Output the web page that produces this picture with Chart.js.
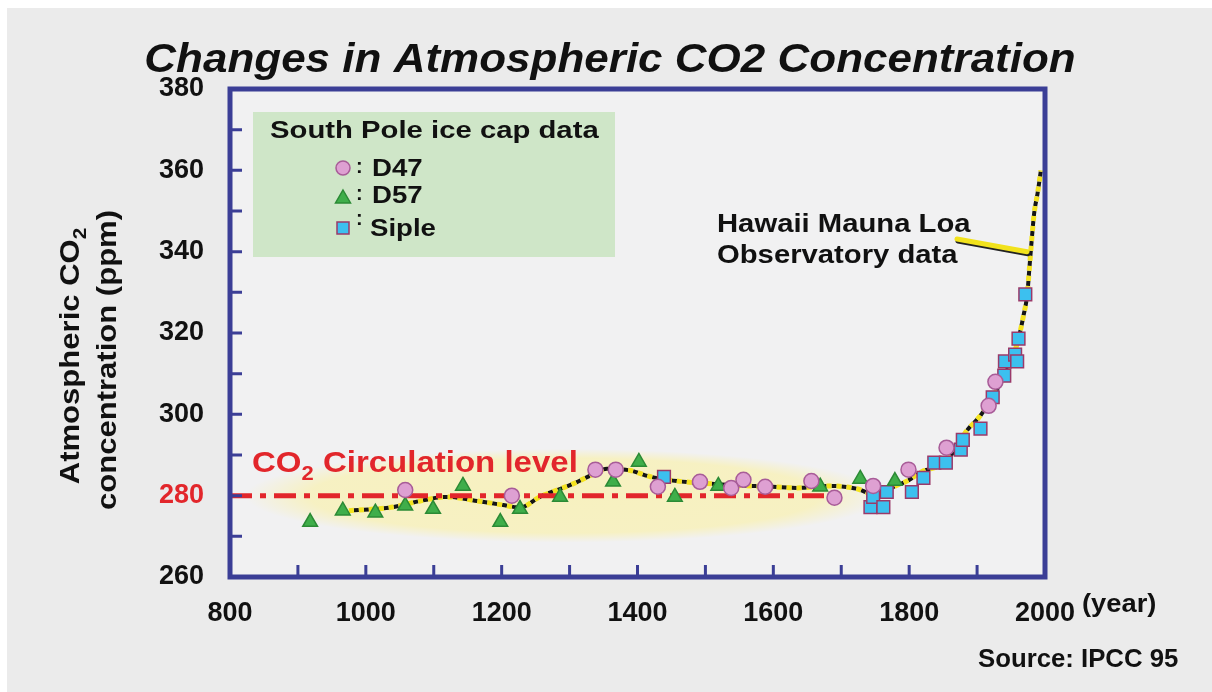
<!DOCTYPE html>
<html>
<head>
<meta charset="utf-8">
<title>Changes in Atmospheric CO2 Concentration</title>
<script src="https://cdn.jsdelivr.net/npm/chart.js@4.4.1/dist/chart.umd.min.js"></script>
<style>
  html, body { margin: 0; padding: 0; background: #fff; }
  canvas { display: block; }
</style>
</head>
<body>
<canvas id="co2Chart" width="1212" height="692"></canvas>
<script>
// South Pole ice cores
const d47Years = [1058, 1215, 1338, 1368, 1430, 1492, 1538, 1556, 1588, 1656, 1690, 1747, 1799, 1855, 1917, 1927];
const d47Ppm   = [281.4, 280, 286.4, 286.4, 282.2, 283.4, 281.9, 283.9, 282.2, 283.6, 279.5, 282.4, 286.4, 291.8, 302.1, 308];

const d57Years = [918, 966, 1014, 1058, 1099, 1143, 1198, 1227, 1286, 1364, 1402, 1455, 1519, 1669, 1728, 1779];
const d57Ppm   = [273.5, 276.3, 275.8, 277.5, 276.7, 282.4, 273.5, 276.7, 279.7, 283.4, 288.3, 279.7, 282.4, 282.2, 284.1, 283.6];

const sipleYears = [1439, 1743, 1747, 1762, 1767, 1804, 1821, 1837, 1854, 1876, 1879, 1905, 1923, 1940, 1941, 1956, 1959, 1961, 1971];
const siplePpm   = [284.6, 277.2, 279.7, 277.2, 280.9, 280.9, 284.4, 288.1, 288.1, 291.3, 293.7, 296.5, 304.2, 309.5, 313, 314.7, 313, 318.6, 329.5];

// smoothed trend incl. Mauna Loa record at the top
const trendYears = [975, 1040, 1080, 1120, 1164, 1202, 1227, 1256, 1305, 1330, 1355, 1389, 1418, 1452, 1502, 1551, 1599, 1635, 1683, 1723, 1742, 1760, 1780, 1797, 1821, 1844, 1860, 1885, 1905, 1930, 1940, 1953, 1961, 1968, 1974, 1977, 1980, 1984, 1989, 1994];
const trendPpm   = [276.3, 277.2, 278.7, 279.7, 278.7, 277.7, 277.1, 279.7, 282.9, 284.9, 286.6, 286.2, 284.7, 283.7, 283, 282.5, 282.2, 281.9, 282.4, 281.7, 280.7, 281, 282.4, 283.6, 286.1, 287.3, 289.6, 296, 299.7, 306.3, 309.5, 314.4, 318.6, 324, 329.7, 335.9, 342, 349.4, 354.3, 360];

// pre-industrial "circulation level"
const levelYears = [800, 1695];
const levelPpm   = [280, 280];

const yTicks = [260, 280, 300, 320, 340, 360, 380];
const xTicks = [800, 1000, 1200, 1400, 1600, 1800, 2000];

// pale glow round the pre-industrial band (centre / half extent in data units)
const glowCentre = [1293, 280];
const glowHalf = [470, 11.5];
// where the Mauna Loa arrow points
const arrowTarget = [1978, 340];

const FONT = '"Liberation Sans", Arial, Helvetica, sans-serif';
const RED = '#e2262b';
const FRAME = '#3b3e96';
const INK = '#111111';

const toXY = (xs, ys) => xs.map((v, i) => ({ x: v, y: ys[i] }));

// text squeezed/stretched horizontally like the original artwork
function drawRich(ctx, parts, x, y, sx, align, rot) {
  ctx.save();
  ctx.translate(x, y);
  if (rot) ctx.rotate(rot);
  ctx.scale(sx, 1);
  let total = 0;
  parts.forEach(p => { ctx.font = p.font; total += ctx.measureText(p.t).width; });
  let cur = align === 'center' ? -total / 2 : 0;
  ctx.textAlign = 'left';
  ctx.textBaseline = 'alphabetic';
  parts.forEach(p => {
    ctx.font = p.font;
    ctx.fillStyle = p.color || INK;
    ctx.fillText(p.t, cur, p.dy || 0);
    cur += ctx.measureText(p.t).width;
  });
  ctx.restore();
}

function bold(size, italic) {
  return (italic ? 'italic ' : '') + 'bold ' + size + 'px ' + FONT;
}

function marker(ctx, kind, x, y) {
  ctx.save();
  ctx.lineWidth = 1.5;
  if (kind === 'circle') {
    ctx.fillStyle = '#dea0d2'; ctx.strokeStyle = '#a85c98';
    ctx.beginPath(); ctx.arc(x, y, 7, 0, Math.PI * 2); ctx.fill(); ctx.stroke();
  } else if (kind === 'triangle') {
    ctx.fillStyle = '#3fae4a'; ctx.strokeStyle = '#2b8a35';
    ctx.beginPath(); ctx.moveTo(x, y - 7); ctx.lineTo(x + 7.5, y + 6); ctx.lineTo(x - 7.5, y + 6); ctx.closePath();
    ctx.fill(); ctx.stroke();
  } else {
    ctx.fillStyle = '#3cc0ef'; ctx.strokeStyle = '#9a3a6a';
    ctx.fillRect(x - 6, y - 6, 12, 12); ctx.strokeRect(x - 6, y - 6, 12, 12);
  }
  ctx.restore();
}

const decorations = {
  id: 'decorations',
  beforeDraw(chart) {
    const { ctx, chartArea: a } = chart;
    ctx.save();
    ctx.fillStyle = '#ffffff';
    ctx.fillRect(0, 0, chart.width, chart.height);
    ctx.fillStyle = '#ebebeb';
    ctx.fillRect(7, 8, chart.width - 7, chart.height - 8);
    ctx.fillStyle = '#f1f1f2';
    ctx.fillRect(a.left, a.top, a.right - a.left, a.bottom - a.top);
    ctx.restore();
  },
  beforeDatasetsDraw(chart) {
    const { ctx, scales: { x, y } } = chart;
    const cx = x.getPixelForValue(glowCentre[0]);
    const cy = y.getPixelForValue(glowCentre[1]);
    const rx = Math.abs(x.getPixelForValue(glowCentre[0] + glowHalf[0]) - cx);
    const ry = Math.abs(y.getPixelForValue(glowCentre[1] + glowHalf[1]) - cy);
    ctx.save();
    ctx.translate(cx, cy);
    ctx.scale(rx / ry, 1);
    const g = ctx.createRadialGradient(0, 0, 0, 0, 0, ry);
    g.addColorStop(0, 'rgba(247,241,192,1)');
    g.addColorStop(0.8, 'rgba(247,241,192,0.95)');
    g.addColorStop(1, 'rgba(247,241,192,0)');
    ctx.fillStyle = g;
    ctx.beginPath(); ctx.arc(0, 0, ry, 0, Math.PI * 2); ctx.fill();
    ctx.restore();
  },
  afterDraw(chart) {
    const { ctx, chartArea: a, scales: { x, y } } = chart;
    ctx.save();

    // frame + inner ticks
    ctx.strokeStyle = FRAME;
    ctx.lineWidth = 5;
    ctx.strokeRect(a.left, a.top, a.right - a.left, a.bottom - a.top);
    ctx.lineWidth = 3;
    ctx.beginPath();
    for (let v = 270; v < 380; v += 10) {
      const py = y.getPixelForValue(v);
      ctx.moveTo(a.left, py); ctx.lineTo(a.left + 12, py);
    }
    for (let v = 900; v < 2000; v += 100) {
      const px = x.getPixelForValue(v);
      ctx.moveTo(px, a.bottom); ctx.lineTo(px, a.bottom - 12);
    }
    ctx.stroke();

    // title
    drawRich(ctx, [{ t: 'Changes in Atmospheric CO2 Concentration', font: bold(40, true) }], 610, 72, 1.1, 'center');

    // y axis title, two rotated lines
    drawRich(ctx, [
      { t: 'Atmospheric CO', font: bold(27) },
      { t: '2', font: bold(18), dy: 7 }
    ], 79, 356, 1.15, 'center', -Math.PI / 2);
    drawRich(ctx, [{ t: 'concentration (ppm)', font: bold(27) }], 116, 360, 1.15, 'center', -Math.PI / 2);

    // unit + source
    drawRich(ctx, [{ t: '(year)', font: bold(26) }], 1082, 612, 1.05, 'left');
    drawRich(ctx, [{ t: 'Source: IPCC 95', font: bold(25) }], 978, 667, 1.03, 'left');

    // circulation level label
    drawRich(ctx, [
      { t: 'CO', font: bold(30), color: RED },
      { t: '2', font: bold(20), color: RED, dy: 8 },
      { t: ' Circulation level', font: bold(30), color: RED }
    ], 252, 472, 1.1, 'left');

    // legend box
    ctx.fillStyle = '#cfe6c8';
    ctx.fillRect(253, 112, 362, 145);
    drawRich(ctx, [{ t: 'South Pole ice cap data', font: bold(24) }], 270, 138, 1.22, 'left');
    marker(ctx, 'circle', 343, 168);
    marker(ctx, 'triangle', 343, 197);
    marker(ctx, 'square', 343, 228);
    drawRich(ctx, [{ t: ':', font: bold(20) }], 356, 173, 1, 'left');
    drawRich(ctx, [{ t: ':', font: bold(20) }], 356, 200, 1, 'left');
    drawRich(ctx, [{ t: ':', font: bold(20) }], 356, 225, 1, 'left');
    drawRich(ctx, [{ t: 'D47', font: bold(24) }], 372, 176, 1.15, 'left');
    drawRich(ctx, [{ t: 'D57', font: bold(24) }], 372, 203, 1.15, 'left');
    drawRich(ctx, [{ t: 'Siple', font: bold(24) }], 370, 236, 1.15, 'left');

    // Mauna Loa note + arrow
    drawRich(ctx, [{ t: 'Hawaii Mauna Loa', font: bold(25) }], 717, 232, 1.17, 'left');
    drawRich(ctx, [{ t: 'Observatory data', font: bold(25) }], 717, 263, 1.17, 'left');
    const tx = x.getPixelForValue(arrowTarget[0]);
    const ty = y.getPixelForValue(arrowTarget[1]);
    ctx.lineCap = 'round';
    ctx.lineWidth = 5;
    ctx.strokeStyle = '#222';
    ctx.beginPath(); ctx.moveTo(958, 241); ctx.lineTo(tx - 2, ty + 2); ctx.stroke();
    ctx.strokeStyle = '#f2e21c';
    ctx.beginPath(); ctx.moveTo(957, 239); ctx.lineTo(tx - 3, ty); ctx.stroke();
    ctx.restore();
  }
};

const ctx = document.getElementById('co2Chart').getContext('2d');
const co2Chart = new Chart(ctx, {
  type: 'scatter',
  data: {
    datasets: [
      {
        label: 'D47',
        data: toXY(d47Years, d47Ppm),
        pointStyle: 'circle',
        pointRadius: 7.5,
        backgroundColor: '#dea0d2',
        borderColor: '#a85c98',
        borderWidth: 1.5,
        order: 0
      },
      {
        label: 'D57',
        data: toXY(d57Years, d57Ppm),
        pointStyle: 'triangle',
        pointRadius: 8.5,
        backgroundColor: '#3fae4a',
        borderColor: '#2b8a35',
        borderWidth: 1.5,
        order: 1
      },
      {
        label: 'Siple',
        data: toXY(sipleYears, siplePpm),
        pointStyle: 'rect',
        pointRadius: 9,
        backgroundColor: '#3cc0ef',
        borderColor: '#9a3a6a',
        borderWidth: 1.5,
        order: 2
      },
      {
        label: 'circulation level',
        data: toXY(levelYears, levelPpm),
        showLine: true,
        pointRadius: 0,
        borderColor: RED,
        borderWidth: 5,
        borderDash: [22, 8, 6, 8],
        order: 5
      },
      {
        label: 'trend (yellow)',
        data: toXY(trendYears, trendPpm),
        showLine: true,
        pointRadius: 0,
        borderColor: '#f4e31e',
        borderWidth: 5,
        borderDash: [5, 5],
        cubicInterpolationMode: 'monotone',
        order: 6
      },
      {
        label: 'trend (shadow)',
        data: toXY(trendYears, trendPpm),
        showLine: true,
        pointRadius: 0,
        borderColor: '#151515',
        borderWidth: 4,
        borderDash: [5, 5],
        borderDashOffset: 5,
        cubicInterpolationMode: 'monotone',
        order: 7
      }
    ]
  },
  options: {
    responsive: false,
    animation: false,
    layout: { padding: { top: 89, right: 167, bottom: 0, left: 0 } },
    plugins: {
      legend: { display: false },
      tooltip: { enabled: false }
    },
    scales: {
      x: {
        type: 'linear',
        min: 800,
        max: 2000,
        grid: { display: false },
        border: { display: false },
        afterBuildTicks: s => { s.ticks = xTicks.map(v => ({ value: v })); },
        afterFit: s => { s.height = 115; },
        ticks: {
          padding: 12,
          color: INK,
          font: { family: FONT, size: 27, weight: 'bold' },
          callback: v => String(v)
        }
      },
      y: {
        min: 260,
        max: 380,
        grid: { display: false },
        border: { display: false },
        afterBuildTicks: s => { s.ticks = yTicks.map(v => ({ value: v })); },
        afterFit: s => { s.width = 230; },
        ticks: {
          padding: 18,
          color: c => (c.tick && c.tick.value === 280 ? RED : INK),
          font: { family: FONT, size: 27, weight: 'bold' },
          callback: v => String(v)
        }
      }
    }
  },
  plugins: [decorations]
});
</script>
</body>
</html>
